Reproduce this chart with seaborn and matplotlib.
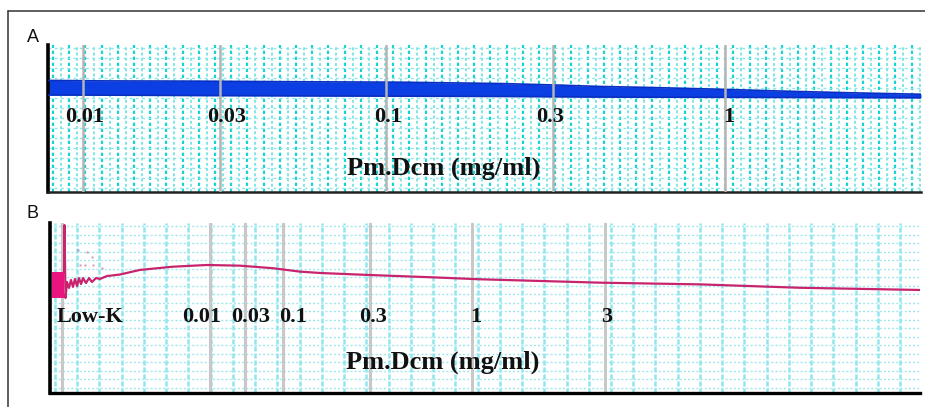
import numpy as np
import pandas as pd
import matplotlib
matplotlib.use("Agg")
import matplotlib.pyplot as plt
from matplotlib.lines import Line2D
import seaborn as sns

# ---------------- data ----------------
# Panel A: contraction band (time in s, tension in arbitrary units)
A_time = [0, 52, 152, 252, 352, 452, 507, 552, 602, 672, 732, 802, 873]
A_upper = [7.59, 7.56, 7.54, 7.50, 7.47, 7.38, 7.28, 7.18, 7.11, 6.99, 6.87, 6.75, 6.65]
A_lower = [6.60, 6.59, 6.56, 6.54, 6.52, 6.50, 6.48, 6.46, 6.45, 6.44, 6.43, 6.42, 6.41]
A_event_time = [35, 172, 338, 505, 677]
A_event_label = ["0.01", "0.03", "0.1", "0.3", "1"]

# Panel B: tension trace
B_block_time = [2, 14]
B_block_low = [5.59, 5.59]
B_block_high = [7.12, 7.12]
B_time = [14, 14.5, 15.5, 17, 19, 21, 23, 25, 27, 29, 31, 33, 36, 39, 42, 46, 50, 57, 70,
          90, 123, 157, 190, 223, 250, 270, 320, 380, 430, 490, 550, 650, 750, 870]
B_value = [7.12, 9.88, 5.59, 6.53, 6.18, 6.65, 6.24, 6.71, 6.29, 6.76, 6.41, 6.76, 6.47, 6.76,
           6.53, 6.76, 6.71, 6.88, 6.97, 7.24, 7.43, 7.53, 7.49, 7.34, 7.14, 7.06, 6.94, 6.81,
           6.69, 6.59, 6.49, 6.39, 6.19, 6.06]
B_artifact_time = [28, 37, 42, 30, 35, 43, 52]
B_artifact_value = [8.41, 8.29, 8.00, 7.53, 7.53, 7.53, 7.35]
B_event_time = [12, 160, 195, 233, 320, 422, 555]
B_event_label = ["Low-K", "0.01", "0.03", "0.1", "0.3", "1", "3"]

x_label = "Pm.Dcm (mg/ml)"

# ---------------- figure ----------------
sns.set_theme(style="white")
plt.rcParams['font.family'] = ['DejaVu Sans']

W, H = 925, 407
fig = plt.figure(figsize=(W / 100, H / 100), dpi=100)

def px_axes(l, t, r, b):
    return fig.add_axes([l / W, 1 - b / H, (r - l) / W, (b - t) / H])

# outer frame (left and top edges visible)
fig.add_artist(Line2D([8 / W, 8 / W], [0, 1 - 11 / H], color="#333333", lw=1.1,
                      transform=fig.transFigure))
fig.add_artist(Line2D([8 / W, 1], [1 - 11 / H, 1 - 11 / H], color="#333333", lw=1.1,
                      transform=fig.transFigure))

serif_bold = dict(family="Liberation Serif", fontweight="bold", color="#111111")

# ---------- Panel A ----------
axA = px_axes(48, 45, 921, 192)
axA.set_xlim(0, 873)
axA.set_ylim(0, 10)
# dense cyan dotted grid
for x in np.arange(5, 873, 16.2):
    axA.axvline(x, color="#19d3d3", lw=1.6, ls=(0, (1.5, 1.2)), zorder=0)
for x in np.arange(13.1, 873, 16.2):
    axA.axvline(x, color="#7fe6e6", lw=1.4, ls=(0, (1.5, 1.2)), zorder=0)
for y in np.arange(0.3, 10, 0.68):
    axA.axhline(y, color="#8ce8e8", lw=1.0, ls=(0, (2, 2.5)), zorder=0)

dfA = pd.DataFrame({"t": A_time, "up": A_upper, "lo": A_lower})
axA.fill_between(dfA["t"], dfA["lo"], dfA["up"], color="#0b3fe3", lw=0, zorder=2)
sns.lineplot(data=dfA, x="t", y="up", ax=axA, color="#0a2fc0", lw=1.2, zorder=3)
sns.lineplot(data=dfA, x="t", y="lo", ax=axA, color="#0a2fc0", lw=1.2, zorder=3)
for t in A_event_time:
    axA.axvline(t, color="#b4b4b4", lw=1.8, zorder=4)
A_label_dx = [2, 7, 2, -3, 4]
for t, lab, dx in zip(A_event_time, A_event_label, A_label_dx):
    axA.text(t + dx, 5.1, lab, ha="center", va="center", fontsize=16, zorder=5, **serif_bold)
axA.text(396, 1.63, x_label, ha="center", va="center", fontsize=19, zorder=5, **serif_bold)
axA.set_xlabel("")
axA.set_ylabel("")
axA.set_xticks([])
axA.set_yticks([])
for s in ["top", "right"]:
    axA.spines[s].set_visible(False)
axA.spines["left"].set_linewidth(2.6)
axA.spines["left"].set_color("black")
axA.spines["bottom"].set_linewidth(1.8)
axA.spines["bottom"].set_color("#222222")

# ---------- Panel B ----------
axB = px_axes(50, 223, 920, 393)
axB.set_xlim(0, 870)
axB.set_ylim(0, 10)
for x in np.arange(5, 870, 22.24):
    axB.axvline(x, color="#8fe6ee", lw=1.8, ls=(0, (2, 0.8)), zorder=0)
for y in np.arange(0.3, 10, 0.5):
    axB.axhline(y, color="#9fe8ee", lw=1.0, ls=(0, (1.5, 1.5)), zorder=0)
for t in B_event_time:
    axB.axvline(t, color="#c8c8c8", lw=2.2, zorder=1)

axB.fill_between(B_block_time, B_block_low, B_block_high, color="#e8157f", lw=0, zorder=3)
dfB = pd.DataFrame({"t": B_time, "v": B_value})
sns.lineplot(data=dfB, x="t", y="v", ax=axB, color="#c8246e", lw=1.6, zorder=4,
             sort=False, estimator=None)
axB.scatter(B_artifact_time, B_artifact_value, s=3, color="#d06090", alpha=0.6, zorder=4,
            linewidths=0)
B_label_dx = [28, -8, 6, 10, 3, 4, 2]
for t, lab, dx in zip(B_event_time, B_event_label, B_label_dx):
    axB.text(t + dx, 4.47, lab, ha="center", va="center", fontsize=16, zorder=5, **serif_bold)
axB.text(393, 1.82, x_label, ha="center", va="center", fontsize=19, zorder=5, **serif_bold)
axB.set_xlabel("")
axB.set_ylabel("")
axB.set_xticks([])
axB.set_yticks([])
for s in ["top", "right"]:
    axB.spines[s].set_visible(False)
axB.spines["left"].set_linewidth(2.6)
axB.spines["left"].set_color("black")
axB.spines["bottom"].set_linewidth(2.4)
axB.spines["bottom"].set_color("black")

# panel letters
fig.text(33 / W, 1 - 37 / H, "A", ha="center", va="center", fontsize=13,
         family="Liberation Sans", color="#111111")
fig.text(33 / W, 1 - 213 / H, "B", ha="center", va="center", fontsize=13,
         family="Liberation Sans", color="#111111")

fig.savefig("out.png", dpi=100)
